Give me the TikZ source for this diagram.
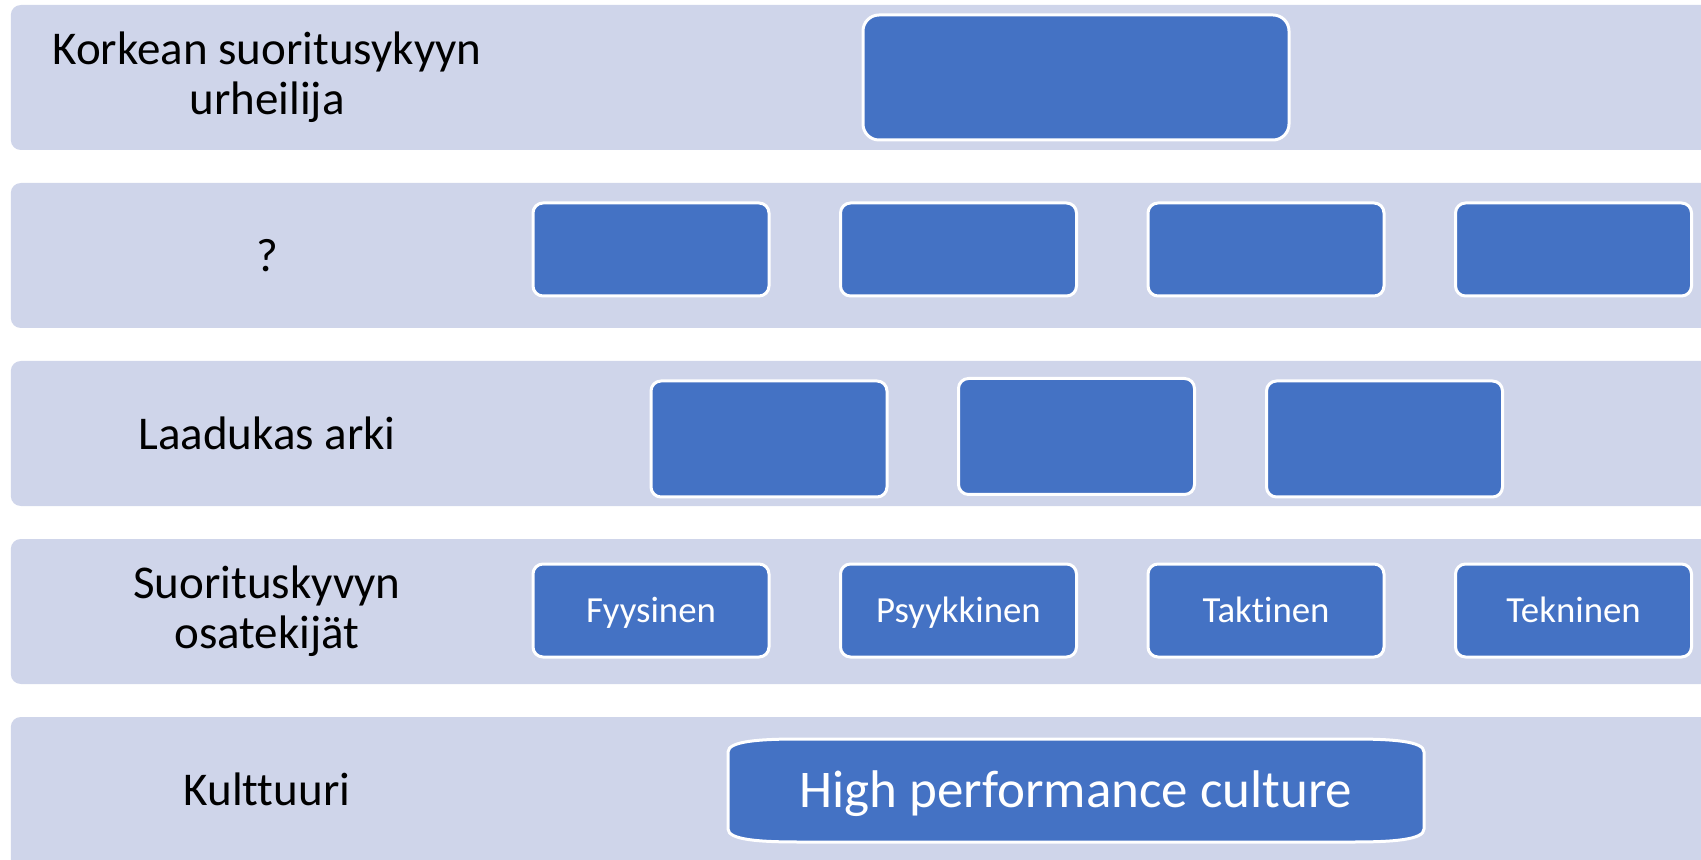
\documentclass[tikz,border=0pt]{standalone}
\usepackage{fontspec}
\setmainfont{Carlito}[Ligatures={NoCommon}]
\definecolor{bandc}{HTML}{CFD5EA}
\definecolor{boxblue}{HTML}{4472C4}
\begin{document}
\begin{tikzpicture}[x=0.5pt,y=-0.5pt,
  band/.style={fill=bandc, rounded corners=5pt},
  bluebox/.style={draw=white, line width=1.5pt, fill=boxblue, rounded corners=5pt, inner sep=0pt,
    minimum width=118pt, minimum height=46.5pt, text=white, font=\fontsize{18.4}{20}\selectfont,
    text height=11.8pt, text depth=0pt},
  midbox/.style={bluebox, minimum height=58pt},
  rowlabel/.style={align=center, font=\fontsize{23.5}{25}\selectfont, text=black}]
\useasboundingbox (0,0) rectangle (1701,860);
\clip (0,0) rectangle (1701,860);
% bands
\fill[band] (10.8,5) rectangle (1740,150);
\fill[band] (10.8,183) rectangle (1740,328);
\fill[band] (10.8,361) rectangle (1740,506);
\fill[band] (10.8,539) rectangle (1740,684);
\fill[band] (10.8,717) rectangle (1740,900);
% labels
\node[rowlabel] (l1) at (267,77.5) {Korkean suoritusykyyn\\urheilija};
\node[rowlabel] (l2) at (267,255.5) {?};
\node[rowlabel] (l3) at (267,433.5) {Laadukas arki};
\node[rowlabel] (l4) at (267,611.5) {Suorituskyvyn\\osatekijät};
\node[rowlabel] (l5) at (267,789.5) {Kulttuuri};
% top box
\node[bluebox, minimum width=213pt, minimum height=62.5pt, rounded corners=8pt] (top) at (1076,77.5) {};
% row 2
\node[bluebox] (q1) at (651,249.5) {};
\node[bluebox] (q2) at (958.5,249.5) {};
\node[bluebox] (q3) at (1266,249.5) {};
\node[bluebox] (q4) at (1573.5,249.5) {};
% row 3
\node[midbox] (a1) at (769,439) {};
\node[midbox] (a2) at (1076.5,436.5) {};
\node[midbox] (a3) at (1384.5,439) {};
% row 4
\node[bluebox] (o1) at (651,610.5) {Fyysinen};
\node[bluebox] (o2) at (958.5,610.5) {Psyykkinen};
\node[bluebox] (o3) at (1266,610.5) {Taktinen};
\node[bluebox] (o4) at (1573.5,610.5) {Tekninen};
% row 5
\draw[draw=white, line width=1.5pt, fill=boxblue]
  (728,752) .. controls (728,741) and (760,739) .. (800,739) -- (1352,739)
  .. controls (1392,739) and (1424,741) .. (1424,752) -- (1424,829)
  .. controls (1424,840) and (1392,842) .. (1352,842) -- (800,842)
  .. controls (760,842) and (728,840) .. (728,829) -- cycle;
\node[text=white, font=\fontsize{26.5}{28}\selectfont, text height=17pt, text depth=0pt] (hpc) at (1076,790.5) {High performance culture};
\end{tikzpicture}
\end{document}
